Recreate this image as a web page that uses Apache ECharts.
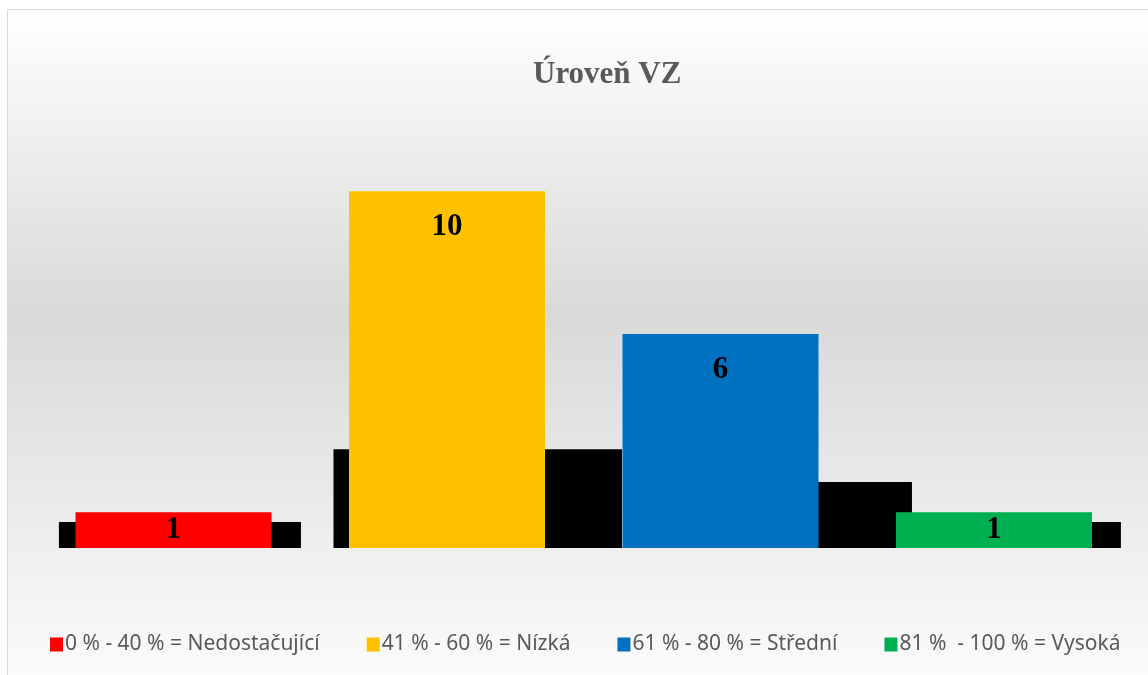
<!DOCTYPE html>
<html>
<head>
<meta charset="utf-8">
<script src="https://cdn.jsdelivr.net/npm/echarts@6/dist/echarts.min.js"></script>
<style>html,body{margin:0;padding:0;background:#fff}#c{width:1148px;height:675px}</style>
</head>
<body>
<div id="c"></div>
<script>
const titleText = 'Úroveň VZ';
const categories = ['0 % - 40 %', '41 % - 60 %', '61 % - 80 %', '81 % - 100 %'];
const seriesNames = ['0 % - 40 % = Nedostačující', '41 % - 60 % = Nízká', '61 % - 80 % = Střední', '81 %  - 100 % = Vysoká'];
const values = [1, 10, 6, 1];
const shadowValues = [0.73, 2.77, 1.85, 0.73];
const colors = ['#FF0000', '#FFC000', '#0070C0', '#00B050'];

// horizontal extent of each black shadow, in category-band widths relative to the band centre (style)
const shadowSpan = [[-0.419, 0.466], [-0.415, 0.640], [-0.30, 0.700], [-0.40, 0.464]];

const chart = echarts.init(document.getElementById('c'));

const barSeries = values.map((v, i) => ({
  type: 'bar',
  name: seriesNames[i],
  data: values.map((vv, j) => (j === i ? vv : '-')),
  barWidth: 196,
  barGap: '-100%',
  z: 3,
  itemStyle: { color: colors[i] },
  label: {
    show: true,
    position: v >= 3 ? 'insideTop' : 'inside',
    distance: 20,
    color: '#000',
    fontFamily: 'Liberation Serif',
    fontWeight: 'bold',
    fontSize: 31
  }
}));

const shadowSeries = {
  type: 'custom',
  name: 'shadow',
  z: 1,
  silent: true,
  data: shadowValues.map((v, i) => [i, v]),
  renderItem: function (params, api) {
    const i = params.dataIndex;
    const top = api.coord([i, api.value(1)]);
    const base = api.coord([i, 0]);
    const bw = api.size([1, 0])[0];
    const s = shadowSpan[i];
    return {
      type: 'rect',
      shape: { x: top[0] + s[0] * bw, y: top[1], width: (s[1] - s[0]) * bw, height: base[1] - top[1] },
      style: { fill: '#000000' }
    };
  }
};

chart.setOption({
  animation: false,
  backgroundColor: '#ffffff',
  graphic: [{
    type: 'rect',
    z: -10,
    silent: true,
    shape: { x: 7.5, y: 9.5, width: 1150, height: 667 },
    style: {
      fill: new echarts.graphic.LinearGradient(0, 0, 0, 1, [
        { offset: 0, color: '#ffffff' },
        { offset: 0.46, color: '#d9d9d9' },
        { offset: 1, color: '#fbfbfb' }
      ]),
      stroke: '#d9d9d9',
      lineWidth: 1
    }
  }],
  title: {
    text: titleText,
    left: 533,
    top: 59,
    padding: 0,
    textStyle: { fontFamily: 'Liberation Serif', fontWeight: 'bold', fontSize: 31, color: '#595959' }
  },
  legend: {
    data: seriesNames,
    left: 50,
    top: 634,
    padding: 0,
    itemWidth: 13,
    itemHeight: 14,
    itemGap: 47,
    icon: 'rect',
    textStyle: { fontFamily: 'Noto Sans', fontSize: 21, color: '#595959', padding: [0, 0, 0, -3] }
  },
  grid: { left: 36.75, right: 17.25, top: 120, bottom: 127 },
  xAxis: {
    type: 'category',
    data: categories,
    axisLine: { show: false },
    axisTick: { show: false },
    axisLabel: { show: false },
    splitLine: { show: false }
  },
  yAxis: {
    type: 'value',
    min: 0,
    max: 12,
    interval: 2,
    show: false,
    splitLine: { show: false }
  },
  series: [shadowSeries].concat(barSeries)
});
</script>
</body>
</html>
